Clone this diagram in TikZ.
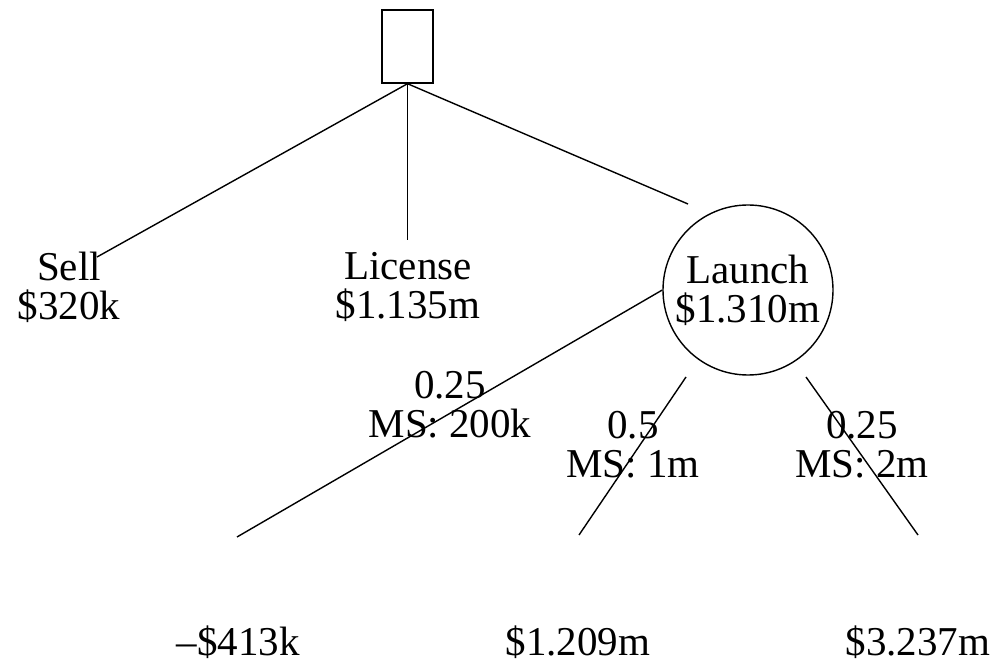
\documentclass[tikz,border=0pt]{standalone}
\usepackage{fontspec}
\setmainfont{Liberation Serif}
\tikzset{
  decbox/.style={draw, minimum width=51pt, minimum height=73pt, inner sep=0pt},
  chance/.style={draw, circle, minimum size=170pt, inner sep=0pt, align=center},
  lbl/.style={align=center, inner sep=0pt, font=\fontsize{41}{39}\selectfont},
}
\begin{document}
\begin{tikzpicture}[x=1pt,y=-1pt, every path/.style={line width=1.4pt}]
      \useasboundingbox (0,0) rectangle (996,668);

      \node[decbox] (dec) at (407.5,46.5) {};

      \node[lbl] (sell) at (69,287) {Sell\\\$320k};
      \node[lbl] (license) at (408,287) {License\\\$1.135m};
      \node[chance, font=\fontsize{41}{39}\selectfont] (launch) at (748,290) {Launch\\\$1.310m};

      \coordinate (sellend) at (97,257);
      \coordinate (licend) at (407.5,240);
      \coordinate (launchend) at (688,204);
      \draw (dec.south) -- (sellend);
      \draw (dec.south) -- (licend);
      \draw (dec.south) -- (launchend);

      % chance branches
      \coordinate (lowend) at (237,537);
      \coordinate (midstart) at (686,377);
      \coordinate (midend) at (579,535);
      \coordinate (highstart) at (806,377);
      \coordinate (highend) at (918,535);
      \draw (launch.west) -- (lowend);
      \draw (midstart) -- (midend);
      \draw (highstart) -- (highend);

      \node[lbl] (plow) at (450,405) {0.25\\MS: 200k};
      \node[lbl] (pmid) at (633,445) {0.5\\MS: 1m};
      \node[lbl] (phigh) at (862,445) {0.25\\MS: 2m};

      \node[lbl] (vlow) at (238,642) {--\$413k};
      \node[lbl] (vmid) at (578,642) {\$1.209m};
      \node[lbl] (vhigh) at (918,642) {\$3.237m};
\end{tikzpicture}
\end{document}
